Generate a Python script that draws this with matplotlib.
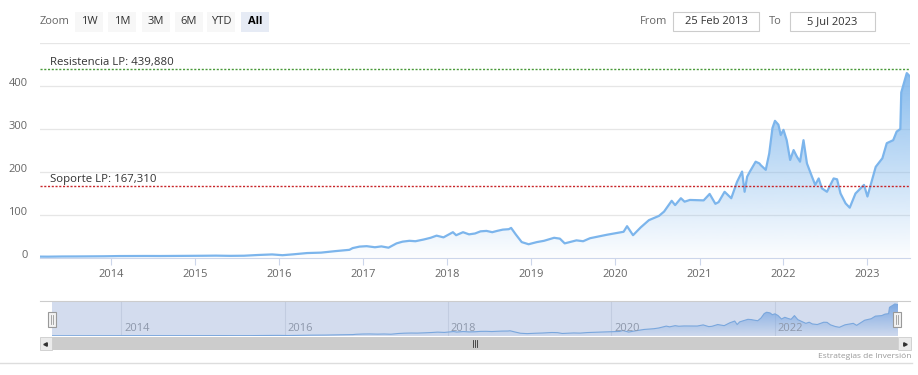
import numpy as np
import pandas as pd
import matplotlib
matplotlib.use("Agg")
import matplotlib.pyplot as plt
import matplotlib.dates as mdates
from matplotlib.patches import Rectangle

plt.rcParams['font.family'] = ['Open Sans', 'DejaVu Sans']

# price series
dates = ["2013-02-25", "2013-04-01", "2013-06-01", "2013-08-01", "2013-10-01", "2013-12-01",
         "2014-02-01", "2014-04-01", "2014-06-01", "2014-08-01", "2014-10-01", "2014-12-01",
         "2015-02-01", "2015-04-01", "2015-06-01", "2015-08-01", "2015-10-01", "2015-12-01",
         "2016-01-15", "2016-03-01", "2016-05-01", "2016-07-01", "2016-09-01", "2016-11-01",
         "2016-11-15", "2016-12-15", "2017-01-15", "2017-02-20", "2017-03-20", "2017-04-20",
         "2017-05-25", "2017-06-20", "2017-07-20", "2017-08-15", "2017-09-20", "2017-10-20",
         "2017-11-15", "2017-12-15", "2018-01-25", "2018-02-08", "2018-03-10", "2018-04-05",
         "2018-05-01", "2018-05-25", "2018-06-20", "2018-07-15", "2018-08-05", "2018-08-30",
         "2018-09-25", "2018-10-05", "2018-10-25", "2018-11-20", "2018-12-20", "2019-01-25",
         "2019-02-25", "2019-04-10", "2019-05-05", "2019-05-26", "2019-07-16", "2019-08-14",
         "2019-09-13", "2019-11-25", "2020-02-06", "2020-02-21", "2020-03-18", "2020-04-20",
         "2020-05-26", "2020-07-09", "2020-07-31", "2020-09-02", "2020-09-17", "2020-10-12",
         "2020-10-28", "2020-11-20", "2021-01-19", "2021-02-14", "2021-03-11", "2021-03-25",
         "2021-04-20", "2021-05-19", "2021-06-13", "2021-07-05", "2021-07-16", "2021-07-27",
         "2021-08-08", "2021-09-02", "2021-09-18", "2021-09-24", "2021-10-16", "2021-10-31",
         "2021-11-14", "2021-11-25", "2021-12-10", "2021-12-20", "2022-01-01", "2022-01-15",
         "2022-01-30", "2022-02-14", "2022-02-28", "2022-03-14", "2022-03-29", "2022-04-13",
         "2022-05-05", "2022-05-19", "2022-06-03", "2022-06-17", "2022-07-09", "2022-08-07",
         "2022-08-22", "2022-09-06", "2022-09-28", "2022-10-16", "2022-11-10", "2022-12-17",
         "2023-01-01", "2023-02-06", "2023-03-07", "2023-03-26", "2023-04-23", "2023-05-08",
         "2023-05-24", "2023-05-28", "2023-06-21", "2023-07-05"]
prices = [3.2, 3.1, 3.5, 3.6, 3.8, 4.0,
          4.5, 4.6, 4.7, 4.6, 4.8, 5.0,
          5.2, 5.5, 5.0, 5.3, 7.0, 8.3,
          6.5, 8.5, 11.5, 12.5, 16.0, 19.0,
          23.0, 26.5, 27.5, 25.0, 27.0, 24.0,
          34.0, 38.0, 40.0, 39.0, 43.0, 47.0,
          52.0, 48.0, 60.0, 53.0, 60.0, 55.0,
          57.0, 62.0, 63.0, 60.0, 63.0, 66.0,
          67.0, 70.0, 55.0, 37.0, 32.0, 37.0,
          40.0, 47.0, 45.0, 34.0, 41.0, 39.0,
          46.0, 54.0, 61.0, 74.0, 53.0, 71.0,
          88.0, 98.0, 108.0, 133.0, 123.0, 139.0,
          131.0, 135.0, 134.0, 149.0, 126.0, 130.0,
          154.0, 139.0, 177.0, 201.0, 154.0, 189.0,
          201.0, 224.0, 220.0, 216.0, 205.0, 243.0,
          302.0, 319.0, 310.0, 286.0, 298.0, 274.0,
          228.0, 251.0, 236.0, 224.0, 274.0, 220.0,
          189.0, 170.0, 185.0, 162.0, 154.0, 185.0,
          183.0, 150.0, 127.0, 117.0, 150.0, 170.0,
          143.0, 212.0, 232.0, 267.0, 274.0, 294.0,
          300.0, 385.0, 430.0, 422.0]

resistencia = 439.880
soporte = 167.310
y_ticks = [0, 100, 200, 300, 400]
year_ticks = list(range(2014, 2024))
nav_years = [2014, 2016, 2018, 2020, 2022]
zoom_buttons = ["1W", "1M", "3M", "6M", "YTD", "All"]
date_from = "25 Feb 2013"
date_to = "5 Jul 2023"

W, H = 918, 375
x = mdates.date2num(pd.to_datetime(dates))
y = np.array(prices)
x0 = mdates.date2num(pd.Timestamp("2013-02-25"))
x1 = mdates.date2num(pd.Timestamp("2023-07-05"))

fig = plt.figure(figsize=(W / 100, H / 100), dpi=100)


def px_axes(left, top, right, bottom):
    return fig.add_axes([left / W, 1 - bottom / H, (right - left) / W, (bottom - top) / H])


def gradient_fill(a, top, a_top, a_bot, color):
    poly = a.fill_between(x, y, 0, color='none', lw=0)
    grad = np.zeros((256, 1, 4))
    grad[:, 0, :3] = matplotlib.colors.to_rgb(color)
    grad[:, 0, 3] = np.linspace(a_top, a_bot, 256)
    img = a.imshow(grad, extent=[x0, x1, 0, top], aspect='auto', origin='upper', zorder=1)
    img.set_clip_path(poly.get_paths()[0], transform=a.transData)


LINE = '#7cb5ec'
GRID = '#e6e6e6'

# ---- main chart
ax = px_axes(40, 43, 910, 258)
for s in ax.spines.values():
    s.set_visible(False)
ax.spines['bottom'].set_visible(True)
ax.spines['bottom'].set_color('#ccd6eb')
for v in [100, 200, 300, 400, 500]:
    ax.axhline(v, color=GRID, lw=0.9, zorder=0)

gradient_fill(ax, 460, 0.95, 0.02, LINE)
ax.set_xlim(x0, x1)
ax.set_ylim(0, 500)
ax.plot(x, y, color=LINE, lw=1.6, zorder=3, solid_joinstyle='round')

ax.axhline(resistencia, color='#4a9a3a', lw=1.0, ls=(0, (1.5, 1.2)), zorder=4)
ax.axhline(soporte, color='#c8262a', lw=1.0, ls=(0, (1.5, 1.2)), zorder=4)
ax.text(x0 + 10 * (x1 - x0) / 870, resistencia + 3, "Resistencia LP: 439,880",
        fontsize=8.2, color='#333333', va='bottom', ha='left')
ax.text(x0 + 10 * (x1 - x0) / 870, soporte + 3, "Soporte LP: 167,310",
        fontsize=8.2, color='#333333', va='bottom', ha='left')

ax.set_yticks(y_ticks)
ax.set_yticklabels([str(v) for v in y_ticks])
ax.tick_params(axis='y', length=0, labelsize=8, labelcolor='#666666', pad=9)
for lab in ax.get_yticklabels():
    lab.set_verticalalignment('baseline')
ax.set_xticks([mdates.date2num(pd.Timestamp(f"{yr}-01-01")) for yr in year_ticks])
ax.set_xticklabels([str(yr) for yr in year_ticks])
ax.tick_params(axis='x', length=5, color='#ccd6eb', labelsize=8, labelcolor='#666666', pad=3)

# ---- navigator
nav = px_axes(52, 301, 898, 336)
nav.set_facecolor('#d3dcee')
for s in nav.spines.values():
    s.set_visible(False)
nav.set_xticks([])
nav.set_yticks([])
for yr in nav_years:
    xv = mdates.date2num(pd.Timestamp(f"{yr}-01-01"))
    nav.axvline(xv, color='#c2cce0', lw=0.8, zorder=1)
    nav.text(xv + 12, 25, str(yr), fontsize=8, color='#8d97aa', va='bottom', ha='left', zorder=4)
gradient_fill(nav, 440, 0.85, 0.05, '#6d9fe0')
nav.set_xlim(x0, x1)
nav.set_ylim(0, 470)
nav.plot(x, y, color='#7aa7dd', lw=0.8, zorder=3)

# ---- pixel overlay for UI elements
ui = fig.add_axes([0, 0, 1, 1], zorder=10)
ui.set_xlim(0, W)
ui.set_ylim(H, 0)
ui.axis('off')
ui.patch.set_alpha(0)

# range selector
ui.text(40, 21, "Zoom", fontsize=8, color='#666666', va='center', ha='left')
btn_x = [75, 108, 142, 175, 207, 241]
for bx, label in zip(btn_x, zoom_buttons):
    sel = label == "All"
    ui.add_patch(Rectangle((bx, 12), 28, 20, color='#e6ebf5' if sel else '#f7f7f7', lw=0))
    ui.text(bx + 14, 21.5, label, fontsize=8, color='#000000' if sel else '#333333',
            fontweight='bold' if sel else 'normal', va='center', ha='center')

ui.text(640, 21, "From", fontsize=8, color='#666666', va='center', ha='left')
ui.add_patch(Rectangle((673, 12), 86, 19, fc='white', ec='#cccccc', lw=0.8))
ui.text(716, 21.5, date_from, fontsize=8, color='#333333', va='center', ha='center')
ui.text(769, 21, "To", fontsize=8, color='#666666', va='center', ha='left')
ui.add_patch(Rectangle((790, 12), 85, 19, fc='white', ec='#cccccc', lw=0.8))
ui.text(832, 21.5, date_to, fontsize=8, color='#333333', va='center', ha='center')

# navigator frame, handles, scrollbar
ui.plot([40, 910], [301, 301], color='#cccccc', lw=0.8)
for hx in [52, 897]:
    ui.add_patch(Rectangle((hx - 4, 312), 8, 15, fc='#f2f2f2', ec='#999999', lw=0.8))
    ui.plot([hx - 1, hx - 1], [315, 324], color='#999999', lw=0.6)
    ui.plot([hx + 1, hx + 1], [315, 324], color='#999999', lw=0.6)
ui.add_patch(Rectangle((52, 337), 846, 13, fc='#cccccc', lw=0))
ui.add_patch(Rectangle((40, 337), 12, 13, fc='#ebebeb', ec='#cccccc', lw=0.6))
ui.add_patch(Rectangle((898, 337), 13, 13, fc='#ebebeb', ec='#cccccc', lw=0.6))
ui.plot([44.5], [343.5], marker='<', ms=2.5, color='#333333')
ui.plot([905], [343.5], marker='>', ms=2.5, color='#333333')
for gx in [473, 475, 477]:
    ui.plot([gx, gx], [340, 347], color='#333333', lw=0.6)

ui.text(911, 356.5, "Estrategias de Inversión", fontsize=6, color='#999999', va='center', ha='right')
ui.plot([0, 912], [362.5, 362.5], color='#dddddd', lw=1.0)

fig.savefig("out.png", dpi=100)
